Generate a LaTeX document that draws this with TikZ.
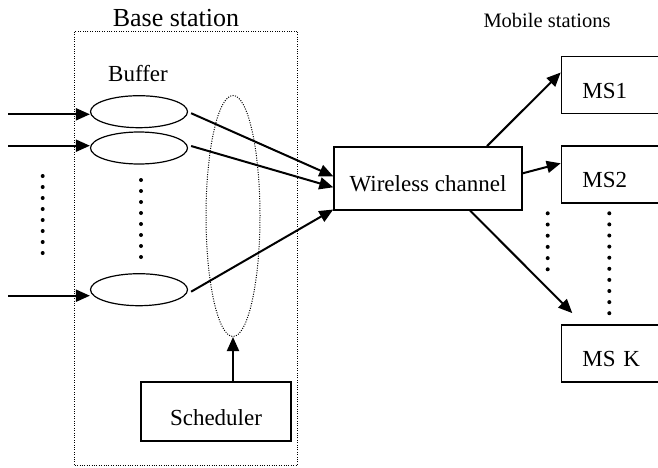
\documentclass[tikz,border=0pt]{standalone}
\usepackage{fontspec}
\setmainfont{Liberation Serif}
\usetikzlibrary{arrows.meta, positioning, shapes.geometric, calc}

\begin{document}
\begin{tikzpicture}[
  x=1pt, y=-1pt,
  font=\fontsize{23}{27}\selectfont,
  >={Triangle[length=14pt,width=12pt]},
  box/.style={draw, line width=1.4pt, inner sep=0pt, text height=27pt, text depth=0pt},
  msbox/.style={box, anchor=west, minimum height=57pt, text width=90pt, align=left, inner xsep=21pt},
  buffer/.style={draw, ellipse, line width=1.2pt, minimum width=97pt, minimum height=32pt, inner sep=0pt},
  dotline/.style={line width=1pt, dash pattern=on 1pt off 1.4pt},
  arr/.style={->, line width=2pt},
  ]
\useasboundingbox (0,0) rectangle (658,467);

% base station and its queues
\node[draw, dotline, minimum width=223pt, minimum height=434pt, inner sep=0pt] (bs) at (186.2,248) {};
\node[font=\fontsize{26}{30}\selectfont] (bslabel) at (176,18.5) {Base station};
\node (buflabel) at (138,73.5) {Buffer};
\node[buffer] (buf1) at (139,111.7) {};
\node[buffer] (buf2) at (139,148) {};
\node[buffer] (bufn) at (139,289.7) {};
\node[draw, ellipse, dotline, minimum width=54pt, minimum height=241pt, inner sep=0pt] (sel) at (233,216) {};
\node[box, minimum width=150pt, minimum height=59pt] (sched) at (216,411.5) {Scheduler};

% channel and mobile stations
\node[box, minimum width=188pt, minimum height=63pt] (chan) at (428,178.3) {Wireless channel};
\node[font=\fontsize{20.5}{24}\selectfont] (mslabel) at (547,20.5) {Mobile stations};
\node[msbox] (ms1) at (560.7,85) {MS1};
\node[msbox] (ms2) at (560.7,174.3) {MS2};
\node[msbox] (msk) at (560.7,353.3) {MS K};

% incoming flows
\coordinate (in1) at (8,114.3);
\coordinate (in2) at (8,145.7);
\coordinate (inn) at (8,295.7);
\draw[arr] (in1) -- (in1 -| buf1.west);
\draw[arr] (in2) -- (in2 -| buf2.west);
\draw[arr] (inn) -- (inn -| bufn.west);

% vertical ellipsis dots
\foreach \k in {0,...,7} \fill (42.7,176+\k*11) circle (2pt);
\foreach \k in {0,...,7} \fill (141,180+\k*11) circle (2pt);
\foreach \k in {0,...,5} \fill (547.7,213.3+\k*11.2) circle (2pt);
\foreach \k in {0,...,9} \fill (609.3,213.3+\k*11.1) circle (2pt);

\draw[arr] ([xshift=3pt,yshift=-1.5pt]buf1.east) -- ([yshift=2pt]chan.west);
\draw[arr] ([xshift=3pt,yshift=2pt]buf2.east) -- ([yshift=-9pt]chan.west);
\draw[arr] ([xshift=3pt,yshift=-2pt]bufn.east) -- ([yshift=1pt]chan.south west);
\draw[arr] ([xshift=17pt]sched.north) -- (sel.south);

\draw[arr] ([xshift=59pt]chan.north) -- ([yshift=12.5pt]ms1.west);
\draw[arr] ([yshift=5pt]chan.east) -- ([yshift=11pt]ms2.west);
\draw[arr] ([xshift=42pt]chan.south) -- ([xshift=11.6pt,yshift=11pt]msk.north west);
\end{tikzpicture}
\end{document}
